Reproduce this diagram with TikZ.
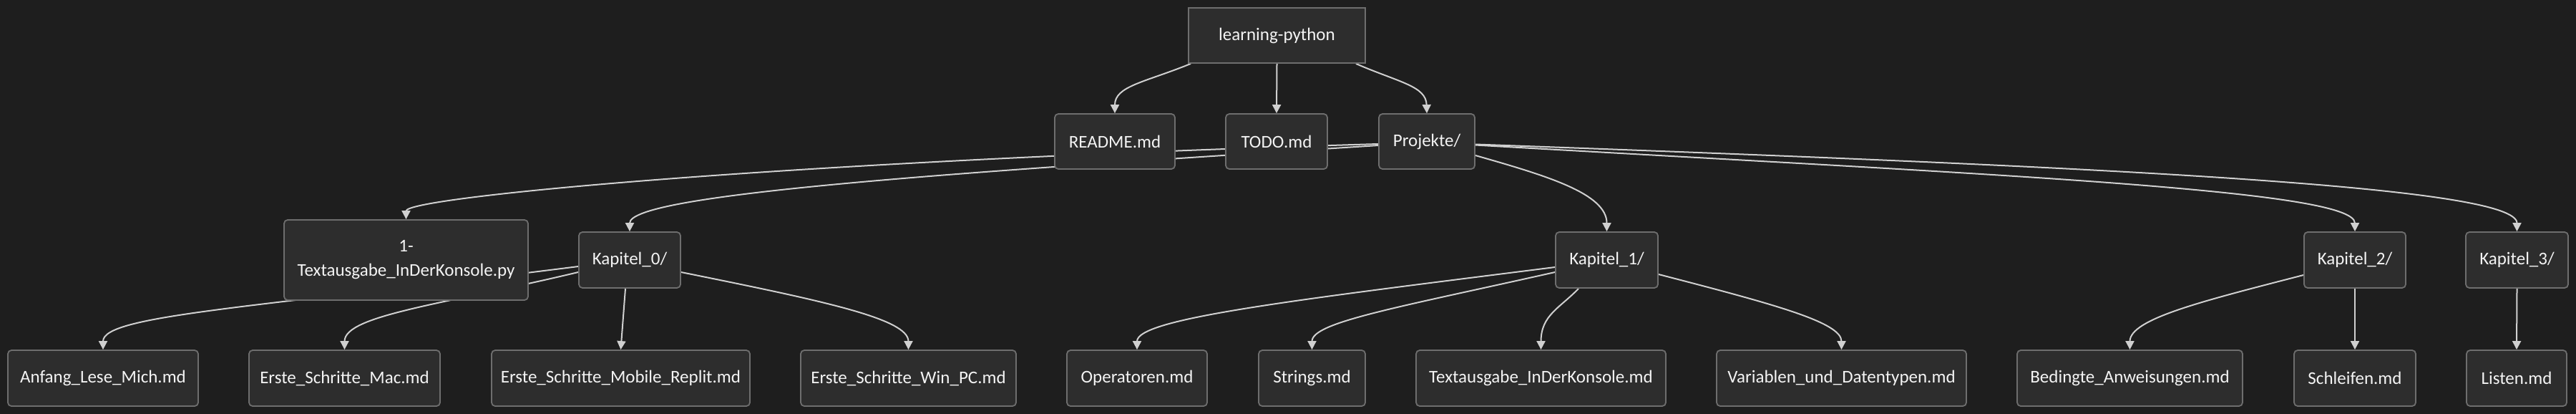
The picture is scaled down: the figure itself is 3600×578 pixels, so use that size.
\documentclass[tikz,border=0pt]{standalone}
\usepackage{fontspec}
\setmainfont{Carlito}
\usetikzlibrary{arrows.meta,calc}
\definecolor{bgc}{HTML}{1E1E1E}
\definecolor{nodefill}{HTML}{2D2D2D}
\definecolor{nodeline}{HTML}{6E6E6E}
\definecolor{edgec}{HTML}{D0D0D0}
\definecolor{txtc}{HTML}{F4F4F4}
\pgfdeclarelayer{bglayer}
\pgfdeclarelayer{edgelayer}
\pgfsetlayers{bglayer,edgelayer,main}
\begin{document}
\begin{tikzpicture}[x=0.25pt,y=-0.25pt,
  box/.style={draw=nodeline, fill=nodefill, line width=0.45pt, rounded corners=1.25pt,
    text=txtc, font=\fontsize{6.25}{8.5}\selectfont, inner sep=0pt, align=center,
    minimum height=19.5pt},
  bw/.style={minimum width=#1*0.25pt},
  bh/.style={minimum height=#1*0.25pt},
  edge/.style={draw=edgec, line width=0.5pt, -{Triangle[length=3pt,width=3pt]}},
]
\useasboundingbox (0,0) rectangle (3600,578);
\begin{pgfonlayer}{bglayer}
\fill[bgc] (0,0) rectangle (3600,578);
\end{pgfonlayer}

% level 0
\node[box, sharp corners, bw=247, bh=77] (root) at (1784.5,49.5) {learning-python};
% level 1
\node[box, bw=168, bh=77] (readme) at (1558,197.5) {README.md};
\node[box, bw=142, bh=77] (todo) at (1784,197.5) {TODO.md};
\node[box, bw=134, bh=77] (proj) at (1994,197.5) {Projekte/};
% level 2
\node[box, bw=341, bh=112] (tx) at (567.5,363) {1-\\Textausgabe\_InDerKonsole.py};
\node[box, bw=142, bh=78] (k0) at (880,363) {Kapitel\_0/};
\node[box, bw=143, bh=78] (k1) at (2245.5,363) {Kapitel\_1/};
\node[box, bw=142, bh=78] (k2) at (3291,363) {Kapitel\_2/};
\node[box, bw=143, bh=78] (k3) at (3517.5,363) {Kapitel\_3/};
% level 3
\node[box, bw=266, bh=78] (anf) at (144,528) {Anfang\_Lese\_Mich.md};
\node[box, bw=267, bh=78] (mac) at (481.5,528) {Erste\_Schritte\_Mac.md};
\node[box, bw=361, bh=78] (mob) at (867.5,528) {Erste\_Schritte\_Mobile\_Replit.md};
\node[box, bw=301, bh=78] (win) at (1269.5,528) {Erste\_Schritte\_Win\_PC.md};
\node[box, bw=196, bh=78] (op) at (1589,528) {Operatoren.md};
\node[box, bw=149, bh=78] (str) at (1833.5,528) {Strings.md};
\node[box, bw=349, bh=78] (txm) at (2153.5,528) {Textausgabe\_InDerKonsole.md};
\node[box, bw=349, bh=78] (var) at (2573.5,528) {Variablen\_und\_Datentypen.md};
\node[box, bw=315, bh=78] (bed) at (2976.5,528) {Bedingte\_Anweisungen.md};
\node[box, bw=170, bh=78] (sch) at (3291,528) {Schleifen.md};
\node[box, bw=140, bh=78] (lis) at (3517,528) {Listen.md};

\begin{pgfonlayer}{edgelayer}
\draw[edge] ($(root.south west)+(4,0)$) .. controls (1600,115) and (1558,120) .. (readme.north);
\draw[edge] (root.south) -- (todo.north);
\draw[edge] ($(root.south east)+(-14,0)$) .. controls (1955,115) and (1993,120) .. (proj.north);

\draw[edge] ($(proj.west)+(0,3.5)$) .. controls (1100,225) and (567.5,275) .. (tx.north);
\draw[edge] ($(proj.west)+(0,5.5)$) .. controls (1350,240) and (880,270) .. (k0.north);
\draw[edge] ($(proj.east)+(0,19.5)$) .. controls (2160,245) and (2245.5,270) .. (k1.north);
\draw[edge] ($(proj.east)+(0,5)$) .. controls (2800,245) and (3291,265) .. (k2.north);
\draw[edge] ($(proj.east)+(0,4)$) .. controls (3000,235) and (3517.5,262) .. (k3.north);

\draw[edge] ($(k0.west)+(0,9)$) .. controls (350,430) and (144,440) .. (anf.north);
\draw[edge] ($(k0.west)+(0,17)$) .. controls (620,425) and (481.5,440) .. (mac.north);
\draw[edge] ($(k0.south)+(-6,0)$) -- (mob.north);
\draw[edge] ($(k0.east)+(0,17)$) .. controls (1150,420) and (1269.5,445) .. (win.north);

\draw[edge] ($(k1.west)+(0,10)$) .. controls (1800,420) and (1589,445) .. (op.north);
\draw[edge] ($(k1.west)+(0,17)$) .. controls (1950,430) and (1833.5,450) .. (str.north);
\draw[edge] ($(k1.south)+(-39.5,0)$) .. controls (2180,430) and (2153.5,440) .. (txm.north);
\draw[edge] ($(k1.east)+(0,20)$) .. controls (2480,425) and (2573.5,450) .. (var.north);

\draw[edge] ($(k2.west)+(0,21)$) .. controls (3080,420) and (2976.5,445) .. (bed.north);
\draw[edge] (k2.south) -- (sch.north);
\draw[edge] (k3.south) -- (lis.north);
\end{pgfonlayer}
\end{tikzpicture}
\end{document}
